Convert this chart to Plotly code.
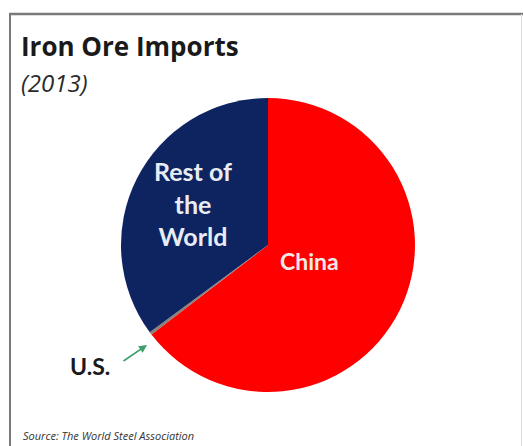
import plotly.graph_objects as go

# Data (iron ore imports 2013, approx. million tonnes)
labels = ["China", "U.S.", "Rest of the World"]
values = [820, 4, 446]
colors = ["#FF0000", "#8a7f7a", "#0E2461"]

W, H = 523, 446
cx, cy, r = 268, 245, 147

def px(x):
    return x / W

def py(y):
    return 1 - y / H

fig = go.Figure(go.Pie(
    labels=labels,
    values=values,
    sort=False,
    direction="clockwise",
    rotation=0,
    marker=dict(colors=colors, line=dict(width=0)),
    textinfo="none",
    hoverinfo="label+value",
    showlegend=False,
    domain=dict(x=[px(cx - r), px(cx + r)], y=[py(cy + r), py(cy - r)]),
))

lato = "Lato, 'Open Sans', sans-serif"
osans = "'Open Sans', sans-serif"

row_label = labels[2].replace("Rest of ", "Rest of<br>").replace("the ", "the<br>")

annotations = [
    dict(text="<b>Iron Ore Imports</b>", x=px(19), y=py(46), xanchor="left", yanchor="middle",
         font=dict(family=osans, size=26, color="#1a1a1a")),
    dict(text="<i>(2013)</i>", x=px(19), y=py(83), xanchor="left", yanchor="middle",
         font=dict(family=osans, size=24, color="#2a2a2a")),
    dict(text="<b>" + labels[0] + "</b>", x=px(309), y=py(261), xanchor="center", yanchor="middle",
         font=dict(family=lato, size=23, color="#f4e8e8")),
    dict(text="<b>" + row_label + "</b>",
         x=px(193), y=py(203), xanchor="center", yanchor="middle",
         font=dict(family=lato, size=25, color="#e8ecf4")),
    dict(text="<b>" + labels[1] + "</b>", x=px(90), y=py(366), xanchor="center", yanchor="middle",
         font=dict(family=lato, size=23, color="#1a1a1a")),
    dict(text="<i>Source: The World Steel Association</i>", x=px(21), y=py(435), xanchor="left",
         yanchor="middle", font=dict(family=osans, size=11, color="#333333")),
    # arrow pointing at the U.S. slice
    dict(text="", x=px(147), y=py(345), showarrow=True,
         ax=-25, ay=17, arrowhead=2, arrowsize=1, arrowwidth=1.6, arrowcolor="#3a9f6a"),
]
for a in annotations:
    a.setdefault("xref", "paper")
    a.setdefault("yref", "paper")
    a.setdefault("showarrow", False)

shapes = [
    dict(type="line", xref="paper", yref="paper", x0=px(10), x1=px(10), y0=py(13), y1=py(H + 5),
         line=dict(color="#7a7a7a", width=2)),
    dict(type="line", xref="paper", yref="paper", x0=px(9), x1=px(W + 5), y0=py(14), y1=py(14),
         line=dict(color="#7a7a7a", width=2.5)),
    dict(type="line", xref="paper", yref="paper", x0=px(521.5), x1=px(521.5), y0=py(14), y1=py(H + 5),
         line=dict(color="#dddddd", width=1)),
]

fig.update_layout(
    width=W, height=H,
    margin=dict(l=0, r=0, t=0, b=0),
    paper_bgcolor="white",
    plot_bgcolor="white",
    annotations=annotations,
    shapes=shapes,
)

fig.write_html("out.html")
